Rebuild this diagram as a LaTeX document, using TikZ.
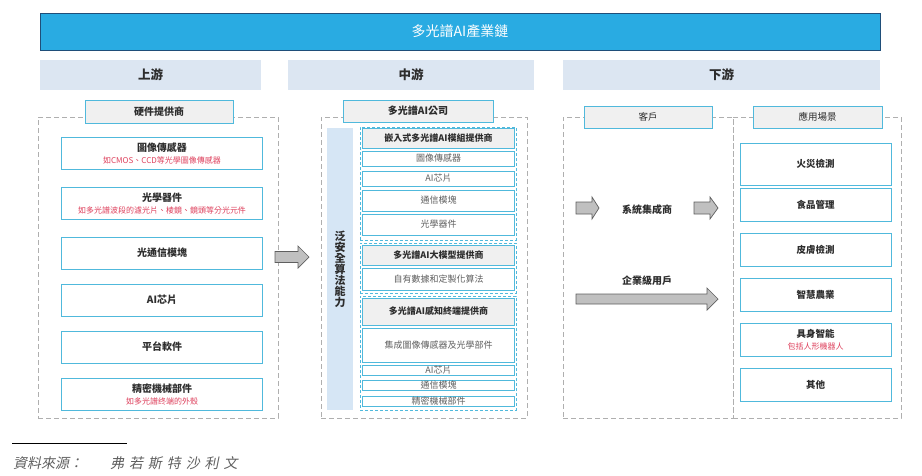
\documentclass[tikz,border=0pt]{standalone}
\usepackage{fontspec}
\setmainfont{Noto Sans CJK TC}
\newfontfamily\srcfont[FakeSlant=0.2]{Noto Sans CJK TC}
\usepackage{tikz}
\definecolor{chainblue}{RGB}{41,171,226}
\definecolor{chainedge}{RGB}{31,78,121}
\definecolor{stagefill}{RGB}{220,230,242}
\definecolor{boxcyan}{RGB}{80,185,220}
\definecolor{dashgray}{RGB}{175,175,175}
\definecolor{headgray}{RGB}{240,240,240}
\definecolor{subred}{RGB}{222,64,92}
\definecolor{barblue}{RGB}{214,230,245}
\definecolor{txtdark}{RGB}{45,45,45}
\definecolor{txtgray}{RGB}{95,95,95}
\definecolor{arrowgray}{RGB}{192,192,192}
\newcommand{\subnote}[1]{{\color{subred}\mdseries\fontsize{8}{10}\selectfont #1}}

\tikzset{
  base/.style={inner sep=0pt, outer sep=0pt, align=center},
  box/.style 2 args={minimum width=#1pt, minimum height=#2pt},
  stage/.style={base, fill=stagefill, text=txtdark, font=\bfseries\fontsize{12.5}{14}\selectfont},
  zone/.style={base, draw=dashgray, dash pattern=on 5pt off 3pt, line width=0.8pt},
  tag/.style={base, draw=boxcyan, fill=headgray, line width=0.9pt, text=txtdark, font=\bfseries\fontsize{10}{12}\selectfont},
  item/.style={base, draw=boxcyan, fill=white, line width=1pt, text=txtdark, font=\bfseries\fontsize{10}{12}\selectfont},
  group/.style={base, draw=boxcyan, dash pattern=on 3pt off 2pt, line width=0.9pt},
  part/.style={base, draw=boxcyan, fill=white, line width=0.8pt, text=txtgray, font=\fontsize{9}{10}\selectfont},
  parthead/.style={part, fill=headgray, text=txtdark, font=\bfseries\fontsize{9}{10}\selectfont},
  flow/.style={draw=txtgray, fill=arrowgray, line width=0.7pt, line join=miter},
}

\begin{document}
\begin{tikzpicture}[x=1pt, y=-1pt]
\useasboundingbox (0,0) rectangle (922,475);

% chain title and the three stages
\node[base, box={840}{37}, fill=chainblue, draw=chainedge, line width=1pt, text=white, font=\fontsize{14}{16}\selectfont] (title) at (460,31.5) {多光譜AI產業鏈};
\node[stage, box={221}{30}] (up) at (150.5,75) {上游};
\node[stage, box={246}{30}] (mid) at (411,75) {中游};
\node[stage, box={317}{30}] (down) at (721.5,75) {下游};

% upstream
\node[zone, box={240}{301}] (upzone) at (158,267.5) {};
\node[tag, box={148}{23}] (hw) at (159,111.5) {硬件提供商};
\node[item, box={201}{32}] (sensor) at (162,153) {圖像傳感器\\\subnote{如CMOS、CCD等光學圖像傳感器}};
\node[item, box={201}{32}] (optic) at (162,203.5) {光學器件\\\subnote{如多光譜波段的濾光片、棱鏡、鏡頭等分光元件}};
\node[item, box={201}{32}] (comm) at (162,253) {光通信模塊};
\node[item, box={201}{32}] (chip) at (162,300) {AI芯片};
\node[item, box={201}{32}] (soft) at (162,347) {平台軟件};
\node[item, box={201}{32}] (mech) at (162,394) {精密機械部件\\\subnote{如多光譜终端的外殼}};

\coordinate (a1) at (275,257);
\draw[flow] (a1) ++(0,-5.5) -- ++(23,0) -- ++(0,-5.5) -- ++(11,11) -- ++(-11,11) -- ++(0,-5.5) -- ++(-23,0) -- cycle;

% midstream
\node[zone, box={206}{301}] (midzone) at (424,267.5) {};
\node[tag, box={150}{22}] (company) at (418,111) {多光譜AI公司};
\node[base, box={26}{282}, fill=barblue, text=txtdark, font=\bfseries\fontsize{11}{11}\selectfont] (algo) at (340,269) {泛\\安\\全\\算\\法\\能\\力};

\node[group, box={156}{113}] (g1) at (438,183.5) {};
\node[group, box={156}{50}] (g2) at (438,268) {};
\node[group, box={156}{114}] (g3) at (438,353) {};

\node[parthead, box={152}{20}] (m1) at (438.5,138) {嵌入式多光譜AI模組提供商};
\node[part, box={152}{15}] (m1a) at (438.5,158.5) {圖像傳感器};
\node[part, box={152}{15}] (m1b) at (438.5,178.5) {AI芯片};
\node[part, box={152}{21}] (m1c) at (438.5,200.5) {通信模塊};
\node[part, box={152}{21}] (m1d) at (438.5,224.5) {光學器件};
\node[parthead, box={152}{20}] (m2) at (438.5,255) {多光譜AI大模型提供商};
\node[part, box={152}{22}] (m2a) at (438.5,279) {自有數據和定製化算法};
\node[parthead, box={152}{27}] (m3) at (438.5,311.5) {多光譜AI感知終端提供商};
\node[part, box={152}{34}] (m3a) at (438.5,345) {集成圖像傳感器及光學部件};
\node[part, box={152}{10}] (m3b) at (438.5,370) {AI芯片};
\node[part, box={152}{10}] (m3c) at (438.5,385) {通信模塊};
\node[part, box={152}{10}] (m3d) at (438.5,401) {精密機械部件};

% downstream
\node[zone, box={170}{301}] (client) at (648,267.5) {};
\node[zone, box={168}{301}] (scene) at (817,267.5) {};
\node[tag, box={128}{22}, font=\fontsize{9.5}{11}\selectfont] (clienttag) at (648,117) {客戶};
\node[tag, box={129}{22}, font=\fontsize{9.5}{11}\selectfont] (scenetag) at (817.5,117) {應用場景};

\node[font=\bfseries\fontsize{10}{12}\selectfont, text=txtdark] (integ) at (647,210) {系統集成商};
\node[font=\bfseries\fontsize{10}{12}\selectfont, text=txtdark] (enterp) at (647,281) {企業級用戶};

\coordinate (a2) at (576,208);
\coordinate (a3) at (694,208);
\coordinate (a4) at (576,299);
\draw[flow] (a2) ++(0,-6) -- ++(16,0) -- ++(0,-5) -- ++(7,11) -- ++(-7,11) -- ++(0,-5) -- ++(-16,0) -- cycle;
\draw[flow] (a3) ++(0,-6) -- ++(16,0) -- ++(0,-5) -- ++(8,11) -- ++(-8,11) -- ++(0,-5) -- ++(-16,0) -- cycle;
\draw[flow] (a4) ++(0,-5) -- ++(131,0) -- ++(0,-6) -- ++(11,11) -- ++(-11,11) -- ++(0,-6) -- ++(-131,0) -- cycle;

\node[item, box={151}{42}, font=\bfseries\fontsize{9.5}{11}\selectfont] (fire) at (815.5,164) {火災檢測};
\node[item, box={151}{33}, font=\bfseries\fontsize{9.5}{11}\selectfont] (food) at (815.5,204.5) {食品管理};
\node[item, box={151}{33}, font=\bfseries\fontsize{9.5}{11}\selectfont] (skin) at (815.5,249.5) {皮膚檢測};
\node[item, box={151}{33}, font=\bfseries\fontsize{9.5}{11}\selectfont] (farm) at (815.5,294.5) {智慧農業};
\node[item, box={151}{33}, font=\bfseries\fontsize{9.5}{12}\selectfont] (embod) at (815.5,339.5) {具身智能\\\subnote{包括人形機器人}};
\node[item, box={151}{33}, font=\bfseries\fontsize{9.5}{11}\selectfont] (other) at (815.5,384.5) {其他};

% source
\coordinate (rule) at (12,443);
\draw[line width=0.6pt] (rule) -- ++(115,0);
\node[anchor=west, inner sep=0pt, text=txtgray] (src) at (13,463) {\srcfont\fontsize{14}{16}\selectfont 資料來源：\hspace{27pt}{\addfontfeature{LetterSpace=35}弗若斯特沙利文}};
\end{tikzpicture}
\end{document}
